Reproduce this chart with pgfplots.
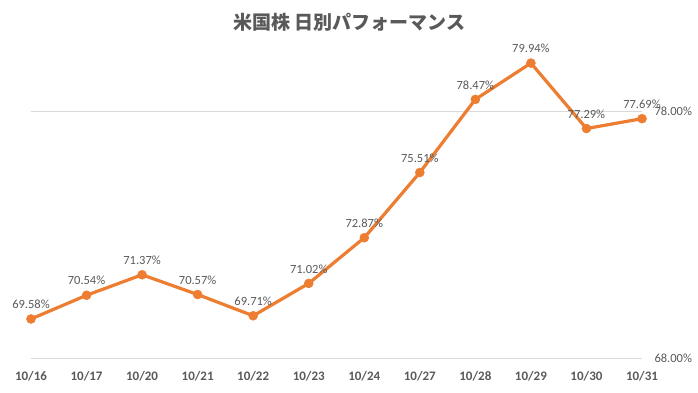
\documentclass[border=0pt]{standalone}
\usepackage{fontspec}
\setmainfont{Carlito}
\newfontfamily\cjk{Noto Sans CJK JP}
\usepackage{pgfplots}
\pgfplotsset{compat=1.18}
\definecolor{lineor}{HTML}{ED7D31}
\definecolor{txtgray}{HTML}{595959}
\definecolor{gridgray}{HTML}{D9D9D9}
\begin{document}
\begin{tikzpicture}[x=1pt,y=1pt]
\path[use as bounding box] (0,0) rectangle (698,392);
\node[font=\cjk\bfseries\fontsize{19}{22}\selectfont, text=txtgray, anchor=center] at (349,370) {米国株 日別パフォーマンス};
\begin{axis}[
  at={(31pt,34pt)}, anchor=south west,
  scale only axis, width=611pt, height=247pt,
  xmin=0, xmax=11, ymin=68, ymax=78,
  clip=false,
  axis line style={draw=none},
  tick style={draw=none},
  xtick={0,...,11},
  xticklabels={10/16,10/17,10/20,10/21,10/22,10/23,10/24,10/27,10/28,10/29,10/30,10/31},
  ytick={68,78},
  ymajorgrids,
  grid style={gridgray, line width=0.8pt},
  major tick length=0pt,
  yticklabel pos=right,
  /pgf/number format/assume math mode=true,
  yticklabel={\pgfmathprintnumber[fixed,fixed zerofill,precision=2]{\tick}\%},
  yticklabel style={font=\fontsize{12.5}{14}\selectfont, text=txtgray, anchor=west, xshift=9pt},
  xticklabel style={font=\bfseries\fontsize{13}{15}\selectfont, text=txtgray, anchor=north, yshift=-10pt},
]
\addplot[color=lineor, line width=3.2pt, mark=*, mark size=4.5pt, mark options={solid, fill=lineor, draw=lineor, line width=0.5pt},
  nodes near coords={\pgfmathprintnumber[fixed,fixed zerofill,precision=2]{\pgfplotspointmeta}\%},
  point meta=y,
  every node near coord/.append style={font=\fontsize{12.5}{14}\selectfont, text=txtgray, anchor=south, inner sep=0pt, yshift=10pt}]
coordinates {
(0,69.58) (1,70.54) (2,71.37) (3,70.57) (4,69.71) (5,71.02)
(6,72.87) (7,75.51) (8,78.47) (9,79.94) (10,77.29) (11,77.69)
};
\end{axis}
\end{tikzpicture}
\end{document}
